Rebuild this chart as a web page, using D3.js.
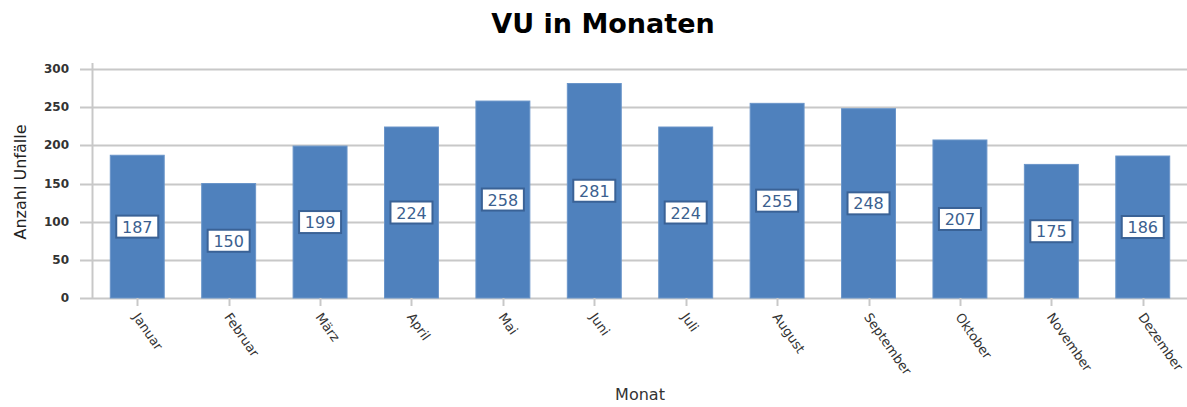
<!DOCTYPE html>
<html>
<head>
<meta charset="utf-8">
<script src="https://cdn.jsdelivr.net/npm/d3@7"></script>
<style>
  body { margin: 0; background: #fff; }
  svg { display: block; }
</style>
</head>
<body>
<div id="figure-holder"></div>
<script>
const months = ['Januar', 'Februar', 'März', 'April', 'Mai', 'Juni', 'Juli',
    'August', 'September', 'Oktober', 'November', 'Dezember'];
const accidents = [187, 150, 199, 224, 258, 281, 224, 255, 248, 207, 175, 186];
const yTicks = [0, 50, 100, 150, 200, 250, 300];

const W = 1187, H = 407;
const plot = { left: 92, right: 1188, top: 63, zero: 298 };

const svg = d3.select('#figure-holder').append('svg')
    .attr('width', W)
    .attr('height', H)
    .style('font-family', '"DejaVu Sans", Verdana, sans-serif');

const x = d3.scaleBand()
    .domain(months)
    .range([plot.left, plot.right])
    .paddingInner(0.41)
    .paddingOuter(0.2);

const y = d3.scaleLinear()
    .domain([0, 300])
    .range([plot.zero, 69]);

// grid lines
svg.append('g')
    .selectAll('line')
    .data(yTicks)
    .join('line')
    .attr('x1', plot.left - 12)
    .attr('x2', W)
    .attr('y1', d => Math.round(y(d)) + 0.5)
    .attr('y2', d => Math.round(y(d)) + 0.5)
    .style('stroke', '#c8c8c8')
    .style('stroke-width', 2);

// y axis line
svg.append('line')
    .attr('x1', plot.left + 0.5).attr('x2', plot.left + 0.5)
    .attr('y1', plot.top).attr('y2', plot.zero)
    .style('stroke', '#c8c8c8')
    .style('stroke-width', 2);

// y tick labels
svg.append('g')
    .selectAll('text')
    .data(yTicks)
    .join('text')
    .text(d => d)
    .attr('x', 69)
    .attr('y', d => y(d) + 4)
    .attr('text-anchor', 'end')
    .style('font-size', '12px')
    .style('font-weight', 'bold')
    .style('fill', '#333');

// bars
svg.append('g')
    .selectAll('rect')
    .data(months)
    .join('rect')
    .attr('x', d => x(d))
    .attr('y', (d, i) => y(accidents[i]))
    .attr('width', x.bandwidth())
    .attr('height', (d, i) => y(0) - y(accidents[i]))
    .style('fill', '#4f81bd')
    .style('stroke', '#6a95c9')
    .style('stroke-width', 1);

// x ticks
svg.append('g')
    .selectAll('line')
    .data(months)
    .join('line')
    .attr('x1', d => Math.round(x(d) + x.bandwidth() / 2) + 0.5)
    .attr('x2', d => Math.round(x(d) + x.bandwidth() / 2) + 0.5)
    .attr('y1', plot.zero)
    .attr('y2', plot.zero + 8)
    .style('stroke', '#c8c8c8')
    .style('stroke-width', 2);

// x labels
svg.append('g')
    .selectAll('text')
    .data(months)
    .join('text')
    .text(d => d)
    .attr('transform', d => `translate(${x(d) + x.bandwidth() / 2 - 5}, ${plot.zero + 19}) rotate(55)`)
    .style('font-size', '13px')
    .style('fill', '#333');

// value labels
const labels = svg.append('g')
    .selectAll('g')
    .data(months)
    .join('g')
    .attr('transform', (d, i) => `translate(${x(d) + x.bandwidth() / 2}, ${(y(0) + y(accidents[i])) / 2})`);

labels.append('rect')
    .attr('x', -21)
    .attr('y', -11)
    .attr('width', 42)
    .attr('height', 22)
    .style('fill', '#fff')
    .style('stroke', '#3a6296')
    .style('stroke-width', 2);

labels.append('text')
    .text((d, i) => accidents[i])
    .attr('y', 6)
    .attr('text-anchor', 'middle')
    .style('font-size', '16px')
    .style('fill', '#3b5f8f');

// title
svg.append('text')
    .text('VU in Monaten')
    .attr('x', 603)
    .attr('y', 33)
    .attr('text-anchor', 'middle')
    .style('font-size', '27px')
    .style('font-weight', 'bold')
    .style('fill', '#000');

// axis titles
svg.append('text')
    .text('Anzahl Unfälle')
    .attr('transform', 'translate(26, 182) rotate(-90)')
    .attr('text-anchor', 'middle')
    .style('font-size', '16px')
    .style('fill', '#222');

svg.append('text')
    .text('Monat')
    .attr('x', 640)
    .attr('y', 400)
    .attr('text-anchor', 'middle')
    .style('font-size', '16px')
    .style('fill', '#333');
</script>
</body>
</html>
